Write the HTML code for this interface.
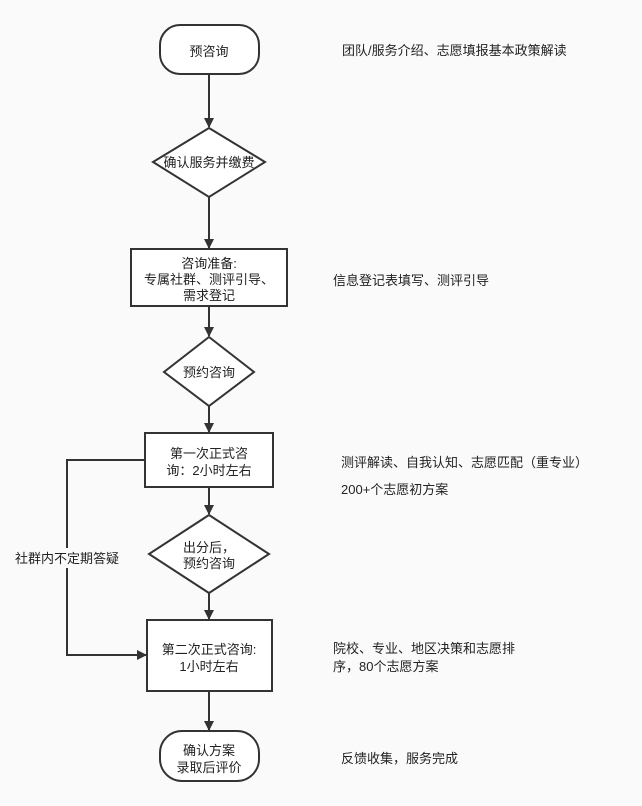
<!DOCTYPE html>
<html><head><meta charset="utf-8"><style>
html,body{margin:0;padding:0;background:#fafafa;}
svg{display:block;}
text{font-family:"Liberation Sans","Noto Sans CJK SC",sans-serif;font-size:13px;fill:#222;}
</style></head><body>
<svg width="642" height="806" viewBox="0 0 642 806" xmlns="http://www.w3.org/2000/svg">
<defs><marker id="a" markerWidth="10" markerHeight="10" refX="9" refY="5" orient="auto" markerUnits="userSpaceOnUse"><path d="M0,0 L10,5 L0,10 Z" fill="#333"/></marker></defs>
<g stroke="#333" stroke-width="2" fill="none">
<line x1="209" y1="75" x2="209" y2="127" marker-end="url(#a)"/>
<line x1="209" y1="197" x2="209" y2="248" marker-end="url(#a)"/>
<line x1="209" y1="307" x2="209" y2="336" marker-end="url(#a)"/>
<line x1="209" y1="406" x2="209" y2="432" marker-end="url(#a)"/>
<line x1="209" y1="488" x2="209" y2="514" marker-end="url(#a)"/>
<line x1="209" y1="593" x2="209" y2="619" marker-end="url(#a)"/>
<line x1="209" y1="692" x2="209" y2="730" marker-end="url(#a)"/>
<polyline points="145,460 67,460 67,655 146,655" marker-end="url(#a)"/>
</g>
<g stroke="#333" stroke-width="2" fill="#fff">
<rect x="160" y="25" width="99" height="49" rx="20"/>
<polygon points="209,128 265,162 209,197 153,162"/>
<rect x="131" y="249" width="156" height="57"/>
<polygon points="209,337 254,372 209,406 164,372"/>
<rect x="145" y="433" width="128" height="54"/>
<polygon points="209,515 269,554 209,593 149,554"/>
<rect x="147" y="620" width="125" height="71"/>
<rect x="160" y="731" width="99" height="50" rx="22"/>
</g>
<rect x="12" y="548" width="110" height="20" fill="#fafafa"/>
<g text-anchor="middle">
<text x="209" y="56">预咨询</text>
<text x="209" y="167">确认服务并缴费</text>
<text x="209" y="268">咨询准备:</text>
<text x="209" y="284">专属社群、测评引导、</text>
<text x="209" y="300">需求登记</text>
<text x="209" y="377">预约咨询</text>
<text x="209" y="458">第一次正式咨</text>
<text x="209" y="475">询：2小时左右</text>
<text x="209" y="552">出分后，</text>
<text x="209" y="568">预约咨询</text>
<text x="209" y="654">第二次正式咨询:</text>
<text x="209" y="671">1小时左右</text>
<text x="209" y="755">确认方案</text>
<text x="209" y="772">录取后评价</text>
<text x="67" y="563">社群内不定期答疑</text>
</g>
<text x="342" y="55">团队/服务介绍、志愿填报基本政策解读</text>
<text x="333" y="285">信息登记表填写、测评引导</text>
<text x="341" y="467">测评解读、自我认知、志愿匹配（重专业）</text>
<text x="341" y="494">200+个志愿初方案</text>
<text x="333" y="653">院校、专业、地区决策和志愿排</text>
<text x="333" y="671">序，80个志愿方案</text>
<text x="341" y="763">反馈收集，服务完成</text>
</svg>
</body></html>
